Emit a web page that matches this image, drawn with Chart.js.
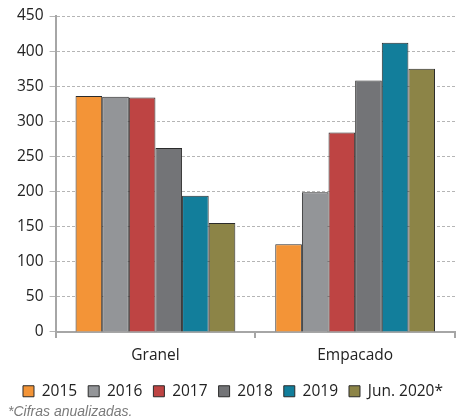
<!DOCTYPE html>
<html>
<head>
<meta charset="utf-8">
<script src="https://cdn.jsdelivr.net/npm/chart.js@4/dist/chart.umd.min.js"></script>
<style>
  html, body { margin: 0; padding: 0; background: #fff; }
  #wrap { position: relative; width: 456px; height: 420px; }
  #chart-box { position: absolute; left: 0; top: 0; width: 456px; height: 409px; }
  #note { position: absolute; left: 8px; top: 403px; font-family: "Liberation Sans", Arial, sans-serif;
          font-style: italic; font-size: 14px; color: #7a7a7a; }
</style>
</head>
<body>
<div id="wrap">
  <div id="chart-box"><canvas id="chart"></canvas></div>
  <div id="note">*Cifras anualizadas.</div>
</div>
<script>
// --- Data ---
const categories = ['Granel', 'Empacado'];
const seriesNames = ['2015', '2016', '2017', '2018', '2019', 'Jun. 2020*'];
const values2015 = [336, 125];
const values2016 = [335, 199];
const values2017 = [334, 284];
const values2018 = [262, 358];
const values2019 = [194, 412];
const valuesJun2020 = [155, 375];
const yTicks = [0, 50, 100, 150, 200, 250, 300, 350, 400, 450];

const seriesColors = ['#F39437', '#939598', '#BE4443', '#737477', '#127E9B', '#8C8447'];
const allValues = [values2015, values2016, values2017, values2018, values2019, valuesJun2020];

const datasets = seriesNames.map(function (name, i) {
    return {
        label: name,
        data: allValues[i],
        backgroundColor: seriesColors[i],
        borderColor: '#2b2b2b',
        borderWidth: 1,
        categoryPercentage: 0.8,
        barPercentage: 1.0
    };
});

const textFont = { family: '"Open Sans", sans-serif', size: 15.5 };

new Chart(document.getElementById('chart'), {
    type: 'bar',
    data: { labels: categories, datasets: datasets },
    options: {
        responsive: true,
        maintainAspectRatio: false,
        animation: false,
        layout: { padding: { left: 11, right: 1, top: 16, bottom: 0 } },
        plugins: {
            tooltip: { enabled: false },
            legend: {
                position: 'bottom',
                labels: {
                    boxWidth: 11,
                    boxHeight: 11,
                    padding: 11,
                    color: '#222',
                    font: textFont
                }
            }
        },
        scales: {
            x: {
                grid: { display: true, drawOnChartArea: false, drawTicks: true, tickLength: 6, color: '#a6a6a6', lineWidth: 2, offset: true },
                border: { color: '#a6a6a6', width: 2 },
                ticks: { color: '#222', font: textFont, padding: 8 }
            },
            y: {
                min: 0,
                max: 450,
                afterBuildTicks: function (axis) {
                    axis.ticks = yTicks.map(function (v) { return { value: v }; });
                },
                // border.dash dashes the grid lines in v4
                grid: { color: '#b5b5b5', lineWidth: 1, tickLength: 6 },
                border: { color: '#a6a6a6', width: 2, dash: [3, 2] },
                ticks: { color: '#222', font: textFont, padding: 6 }
            }
        }
    }
});
</script>
</body>
</html>
